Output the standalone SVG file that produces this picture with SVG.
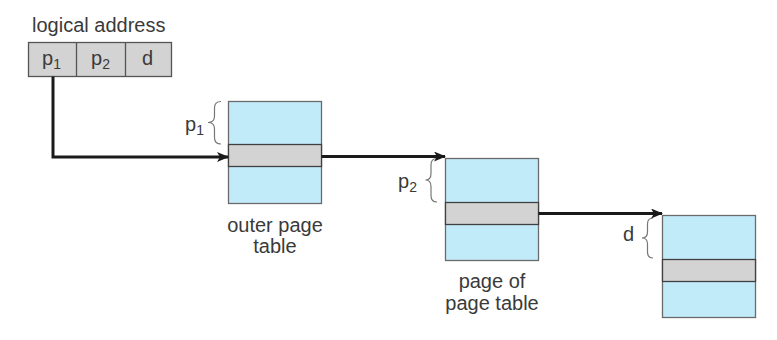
<svg xmlns="http://www.w3.org/2000/svg" width="777" height="340" viewBox="0 0 777 340">
<defs>
<style>
text{font-family:"Liberation Sans",Arial,sans-serif;font-size:20px;fill:#3a3a3a}
.sub{font-size:14px}
.blue{fill:#c2ebfa;stroke:#6a6a6a;stroke-width:1.3}
.gray{fill:#d3d3d3;stroke:#404040;stroke-width:1.3}
.addr{fill:#d3d3d3;stroke:#555;stroke-width:1.3}
.brace{fill:none;stroke:#777;stroke-width:1.2}
.conn{fill:none;stroke:#1a1a1a;stroke-width:3}
</style>
<marker id="ah" markerWidth="12" markerHeight="10" refX="11" refY="5" orient="auto" markerUnits="userSpaceOnUse">
<path d="M0,0 L12,5 L0,10 L3,5 Z" fill="#1a1a1a"/>
</marker>
</defs>
<rect width="777" height="340" fill="#fff"/>

<g id="logical-address">
<text x="32" y="32">logical address</text>
<rect class="addr" x="28.5" y="42.5" width="143" height="34"/>
<line x1="76.5" y1="42.5" x2="76.5" y2="76.5" stroke="#555" stroke-width="1.3"/>
<line x1="125.5" y1="42.5" x2="125.5" y2="76.5" stroke="#555" stroke-width="1.3"/>
<text x="42" y="65">p<tspan class="sub" dy="4">1</tspan></text>
<text x="91" y="65">p<tspan class="sub" dy="4">2</tspan></text>
<text x="142" y="65">d</text>
</g>

<g id="outer-page-table">
<rect class="blue" x="228.5" y="101.5" width="93" height="102"/>
<rect class="gray" x="228.5" y="144.5" width="93" height="22"/>
<path class="brace" d="M221 101.5 Q214.5 101.5 214.5 108 L214.5 116 Q214.5 122.5 208 122.5 Q214.5 122.5 214.5 129 L214.5 137.5 Q214.5 144 221 144"/>
<text x="185" y="131">p<tspan class="sub" dy="4">1</tspan></text>
<text x="275" y="232" text-anchor="middle">outer page</text>
<text x="275" y="253" text-anchor="middle">table</text>
</g>

<g id="page-of-page-table">
<rect class="blue" x="445.5" y="158.5" width="93" height="102"/>
<rect class="gray" x="445.5" y="202.5" width="93" height="22"/>
<path class="brace" d="M437 158.5 Q431 158.5 431 165 L431 173.5 Q431 180 425.5 180 Q431 180 431 186.5 L431 195.5 Q431 202 437 202"/>
<text x="398" y="188">p<tspan class="sub" dy="4">2</tspan></text>
<text x="492" y="288" text-anchor="middle">page of</text>
<text x="492" y="310" text-anchor="middle">page table</text>
</g>

<g id="page">
<rect class="blue" x="662.5" y="215.5" width="93" height="102"/>
<rect class="gray" x="662.5" y="259.5" width="93" height="22"/>
<path class="brace" d="M653 218 Q647.5 218 647.5 224 L647.5 232 Q647.5 238 642 238 Q647.5 238 647.5 244 L647.5 252 Q647.5 258 653 258"/>
<text x="623" y="241">d</text>
</g>

<g id="connectors">
<path class="conn" d="M53 76.5 L53 157 L228 157" marker-end="url(#ah)"/>
<path class="conn" d="M321.5 156.5 L445 156.5" marker-end="url(#ah)"/>
<path class="conn" d="M538.5 213.5 L662 213.5" marker-end="url(#ah)"/>
</g>
</svg>
